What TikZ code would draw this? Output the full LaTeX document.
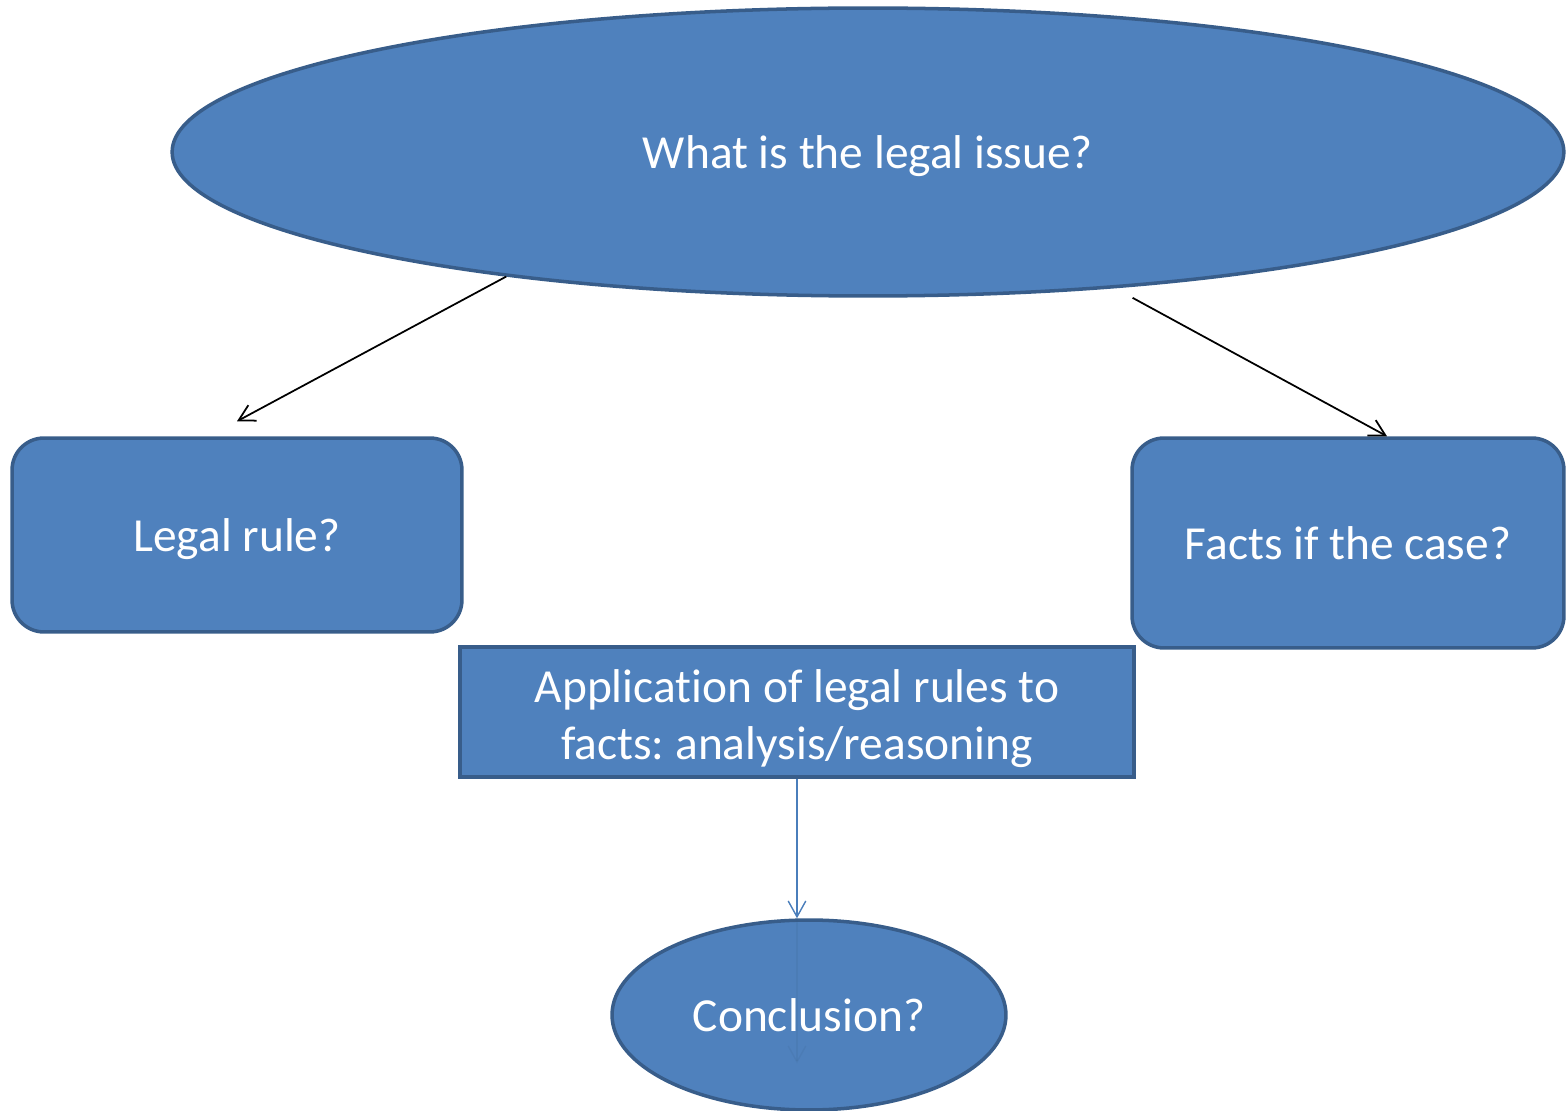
\documentclass[tikz,border=0pt]{standalone}
\usepackage{fontspec}
\setmainfont{Carlito}[Ligatures=NoCommon]
\usetikzlibrary{shapes.geometric,arrows.meta}
\definecolor{boxfill}{HTML}{4F81BD}
\definecolor{boxline}{HTML}{385D8A}
\definecolor{linkblue}{HTML}{4A7EBB}
\frenchspacing
\tikzset{
  box/.style={draw=boxline, fill=boxfill, line width=2pt, text=white,
    font=\fontsize{27}{32.5}\selectfont, inner sep=0pt, align=center,
    text height=24pt, text depth=5.3pt},
  oval/.style={box, ellipse},
  link/.style={-{Straight Barb[length=9pt,width=10pt]}, line width=1pt},
}
\begin{document}
\begin{tikzpicture}[x=0.02cm, y=-0.02cm]
        \useasboundingbox (0,0) rectangle (1566,1111);

        \node[oval, minimum width=27.84cm, minimum height=5.76cm] (issue) at (868,152) {What is the legal issue?};
        \node[box, rounded corners=0.64cm, minimum width=9cm, minimum height=3.88cm] (rule) at (237,535) {Legal rule?};
        \node[box, rounded corners=0.64cm, minimum width=8.64cm, minimum height=4.2cm] (facts) at (1348,543) {Facts if the case?};
        \node[box, text height=, text depth=, minimum width=13.48cm, minimum height=2.6cm] (apply) at (797,712)
          {\rule{0pt}{26pt}Application of legal rules to\\facts: analysis/reasoning};
        \node[oval, minimum width=7.88cm, minimum height=3.8cm] (concl) at (809,1015) {Conclusion?};

        \draw[link] (issue.199.5) -- ([yshift=0.3cm]rule.north);
        \draw[link] ([yshift=-0.22cm]issue.-27) -- ([xshift=0.78cm]facts.north);
        \draw[link, draw=linkblue, line width=0.8pt] (apply.south) -- (apply.south |- concl.north);
        \draw[link, draw=linkblue!70!black, line width=0.8pt, opacity=0.12] (apply.south |- concl.north) -- ++(0,145);
\end{tikzpicture}
\end{document}
